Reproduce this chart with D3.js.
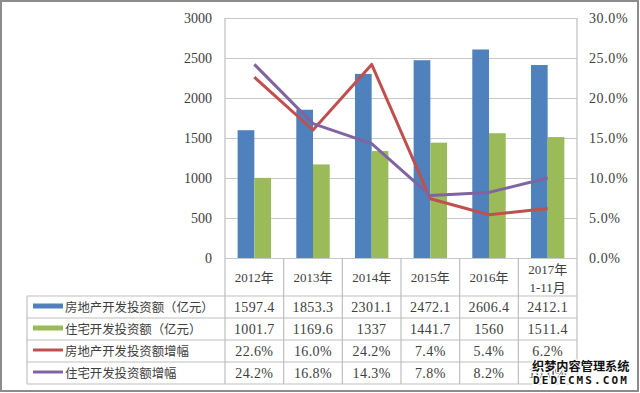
<!DOCTYPE html>
<html>
<head>
<meta charset="utf-8">
<script src="https://cdn.jsdelivr.net/npm/d3@7/dist/d3.min.js"></script>
<style>
  body { margin: 0; background: #fff; }
  text { font-family: "Liberation Serif", "Noto Sans CJK SC", serif; fill: #404040; }
  .cjk { font-family: "Noto Sans CJK SC", sans-serif; }
</style>
</head>
<body>
<svg id="chart" width="640" height="393"></svg>
<script>
var years = ['2012年', '2013年', '2014年', '2015年', '2016年', '2017年\n1-11月'];
var realEstate = [1597.4, 1853.3, 2301.1, 2472.1, 2606.4, 2412.1];
var housing = [1001.7, 1169.6, 1337, 1441.7, 1560, 1511.4];
var realEstateGrowth = [22.6, 16.0, 24.2, 7.4, 5.4, 6.2];
var housingGrowth = [24.2, 16.8, 14.3, 7.8, 8.2, 10.0];
var leftTicks = [0, 500, 1000, 1500, 2000, 2500, 3000];
var rightTicks = [0, 5, 10, 15, 20, 25, 30];

var series = [
    { name: '房地产开发投资额（亿元）', values: realEstate, color: '#4f81bd', kind: 'bar', fmt: function(d) { return String(d % 1 ? d.toFixed(1) : d); } },
    { name: '住宅开发投资额（亿元）', values: housing, color: '#9bbb59', kind: 'bar', fmt: function(d) { return String(d % 1 ? d.toFixed(1) : d); } },
    { name: '房地产开发投资额增幅', values: realEstateGrowth, color: '#c0504d', kind: 'line', fmt: function(d) { return d.toFixed(1) + '%'; } },
    { name: '住宅开发投资额增幅', values: housingGrowth, color: '#8064a2', kind: 'line', fmt: function(d) { return d.toFixed(1) + '%'; } }
];

var plot = { left: 225, right: 577, top: 18, bottom: 258 };
var tableLeft = 27, rowH = 22, headerBottom = 296;

var svg = d3.select('#chart');

// outer frame
svg.append('rect')
    .attr('x', 1).attr('y', 1).attr('width', 637).attr('height', 390)
    .attr('fill', 'none').attr('stroke', '#8c8c8c').attr('stroke-width', 2);

var x = d3.scaleBand().domain(d3.range(years.length)).range([plot.left, plot.right]);
var yL = d3.scaleLinear().domain([0, 3000]).range([plot.bottom, plot.top]);
var yR = d3.scaleLinear().domain([0, 30]).range([plot.bottom, plot.top]);
var xb = d3.scaleBand().domain([0, 1]).range([0, 33.4]);

// gridlines
svg.append('g').selectAll('line').data(leftTicks).enter().append('line')
    .attr('x1', plot.left).attr('x2', plot.right)
    .attr('y1', function(d) { return yL(d) + 0.5; })
    .attr('y2', function(d) { return yL(d) + 0.5; })
    .attr('stroke', '#c8c8c8').attr('stroke-width', 1.2);

// left axis labels
svg.append('g').selectAll('text').data(leftTicks).enter().append('text')
    .attr('x', 212).attr('y', function(d) { return yL(d) + 5; })
    .attr('text-anchor', 'end').style('font-size', '14px')
    .text(function(d) { return d; });

// right axis labels
svg.append('g').selectAll('text').data(rightTicks).enter().append('text')
    .attr('x', 589).attr('y', function(d) { return yR(d) + 5; })
    .style('font-size', '14px').attr('letter-spacing', '0.6px')
    .text(function(d) { return d.toFixed(1) + '%'; });

// bars
series.filter(function(s) { return s.kind === 'bar'; }).forEach(function(s, k) {
    svg.append('g').selectAll('rect').data(s.values).enter().append('rect')
        .attr('x', function(d, i) { return x(i) + x.bandwidth() / 2 - 16.7 + xb(k); })
        .attr('width', xb.bandwidth())
        .attr('y', function(d) { return yL(d); })
        .attr('height', function(d) { return plot.bottom - yL(d); })
        .attr('fill', s.color);
});

// lines
var line = d3.line()
    .x(function(d, i) { return x(i) + x.bandwidth() / 2; })
    .y(function(d) { return yR(d); });
series.filter(function(s) { return s.kind === 'line'; }).forEach(function(s) {
    svg.append('path').datum(s.values)
        .attr('d', line).attr('fill', 'none')
        .attr('stroke', s.color).attr('stroke-width', 3)
        .attr('stroke-linejoin', 'round');
});

// table grid
var tableBottom = headerBottom + rowH * series.length;
var grid = svg.append('g').attr('stroke', '#bfbfbf').attr('stroke-width', 1.2);
grid.append('line').attr('x1', plot.left).attr('x2', plot.left).attr('y1', plot.top).attr('y2', tableBottom);
grid.append('line').attr('x1', plot.right).attr('x2', plot.right).attr('y1', plot.top).attr('y2', tableBottom);
grid.selectAll('.v').data(d3.range(1, years.length)).enter().append('line')
    .attr('x1', function(i) { return x(i); }).attr('x2', function(i) { return x(i); })
    .attr('y1', plot.bottom).attr('y2', tableBottom);
grid.append('line').attr('x1', tableLeft).attr('x2', tableLeft).attr('y1', headerBottom).attr('y2', tableBottom);
grid.selectAll('.h').data(d3.range(series.length + 1)).enter().append('line')
    .attr('x1', tableLeft).attr('x2', plot.right)
    .attr('y1', function(r) { return headerBottom + r * rowH; })
    .attr('y2', function(r) { return headerBottom + r * rowH; });

// header
years.forEach(function(yr, i) {
    var parts = yr.split('\n');
    var t = svg.append('text').attr('text-anchor', 'middle').style('font-size', '13px');
    parts.forEach(function(p, j) {
        t.append('tspan')
            .attr('x', x(i) + x.bandwidth() / 2)
            .attr('y', parts.length === 1 ? 282 : 274 + j * 18)
            .text(p);
    });
});

// rows
series.forEach(function(s, r) {
    var cy = headerBottom + r * rowH + rowH / 2;
    svg.append('line')
        .attr('x1', 33).attr('x2', 63).attr('y1', cy - 1).attr('y2', cy - 1)
        .attr('stroke', s.color).attr('stroke-width', s.kind === 'bar' ? 5 : 3);
    svg.append('text').attr('class', 'cjk')
        .attr('x', 65).attr('y', cy + 5)
        .style('font-size', '12.4px')
        .text(s.name);
    svg.append('g').selectAll('text').data(s.values).enter().append('text')
        .attr('x', function(d, i) { return x(i) + x.bandwidth() / 2; })
        .attr('y', cy + 5)
        .attr('text-anchor', 'middle').style('font-size', '14px')
        .attr('letter-spacing', '0.4px')
        .text(s.fmt);
});

// watermark
svg.append('text').attr('class', 'cjk')
    .attr('x', 532).attr('y', 371)
    .style('font-size', '12.2px').style('font-weight', 'bold')
    .style('fill', '#111').attr('stroke', '#fff').attr('stroke-width', 2.5)
    .attr('paint-order', 'stroke')
    .text('织梦内容管理系统');
svg.append('text')
    .attr('x', 533).attr('y', 384)
    .style('font-family', '"DejaVu Sans Mono", monospace')
    .style('font-size', '11px').style('font-weight', 'bold')
    .style('fill', '#111').attr('stroke', '#fff').attr('stroke-width', 2.5)
    .attr('paint-order', 'stroke').attr('letter-spacing', '2.1px')
    .text('DEDECMS.COM');
</script>
</body>
</html>
